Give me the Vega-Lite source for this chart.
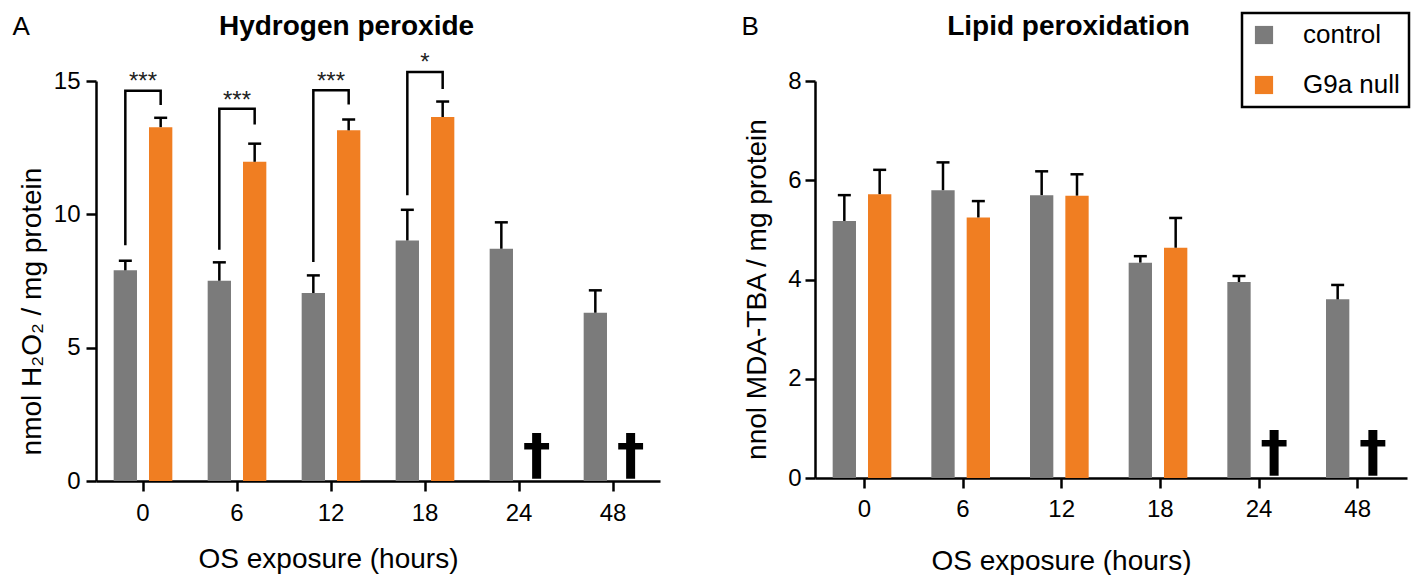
{
  "$schema": "https://vega.github.io/schema/vega-lite/v6.json",
  "background": "white",
  "padding": {"left": 12, "top": 11, "right": 0, "bottom": 0},
  "config": {
    "font": "Liberation Sans",
    "view": {"stroke": null},
    "axis": {"grid": false, "domainColor": "black", "domainWidth": 2.5, "tickColor": "black", "tickWidth": 2.5, "tickSize": 10, "labelColor": "black", "labelFontSize": 24, "labelFont": "Liberation Sans", "titleColor": "black", "titleFont": "Liberation Sans", "titleFontSize": 28, "titleFontWeight": "normal"}
  },
  "datasets": {
    "h2o2": [
      {"time": 0, "group": "control", "value": 7.9, "err": 8.26},
      {"time": 0, "group": "G9a null", "value": 13.27, "err": 13.62},
      {"time": 6, "group": "control", "value": 7.51, "err": 8.2},
      {"time": 6, "group": "G9a null", "value": 11.97, "err": 12.65},
      {"time": 12, "group": "control", "value": 7.05, "err": 7.71},
      {"time": 12, "group": "G9a null", "value": 13.15, "err": 13.56},
      {"time": 18, "group": "control", "value": 9.02, "err": 10.17},
      {"time": 18, "group": "G9a null", "value": 13.65, "err": 14.23},
      {"time": 24, "group": "control", "value": 8.71, "err": 9.7},
      {"time": 48, "group": "control", "value": 6.31, "err": 7.15}
    ],
    "h2o2br": [
      {"time": 0, "group": "control", "y": 8.84, "ord": 1},
      {"time": 0, "group": "control", "y": 14.63, "ord": 2},
      {"time": 0, "group": "G9a null", "y": 14.63, "ord": 3},
      {"time": 0, "group": "G9a null", "y": 14.1, "ord": 4},
      {"time": 6, "group": "control", "y": 8.67, "ord": 1},
      {"time": 6, "group": "control", "y": 13.96, "ord": 2},
      {"time": 6, "group": "G9a null", "y": 13.96, "ord": 3},
      {"time": 6, "group": "G9a null", "y": 13.37, "ord": 4},
      {"time": 12, "group": "control", "y": 8.21, "ord": 1},
      {"time": 12, "group": "control", "y": 14.65, "ord": 2},
      {"time": 12, "group": "G9a null", "y": 14.65, "ord": 3},
      {"time": 12, "group": "G9a null", "y": 14.12, "ord": 4},
      {"time": 18, "group": "control", "y": 10.72, "ord": 1},
      {"time": 18, "group": "control", "y": 15.34, "ord": 2},
      {"time": 18, "group": "G9a null", "y": 15.34, "ord": 3},
      {"time": 18, "group": "G9a null", "y": 14.7, "ord": 4}
    ],
    "h2o2star": [
      {"time": 0, "y": 14.71, "label": "***"},
      {"time": 6, "y": 14.0, "label": "***"},
      {"time": 12, "y": 14.71, "label": "***"},
      {"time": 18, "y": 15.43, "label": "*"}
    ],
    "lipid": [
      {"time": 0, "group": "control", "value": 5.18, "err": 5.7},
      {"time": 0, "group": "G9a null", "value": 5.72, "err": 6.21},
      {"time": 6, "group": "control", "value": 5.8, "err": 6.36},
      {"time": 6, "group": "G9a null", "value": 5.25, "err": 5.58},
      {"time": 12, "group": "control", "value": 5.7, "err": 6.18},
      {"time": 12, "group": "G9a null", "value": 5.69, "err": 6.12},
      {"time": 18, "group": "control", "value": 4.34, "err": 4.47},
      {"time": 18, "group": "G9a null", "value": 4.64, "err": 5.24},
      {"time": 24, "group": "control", "value": 3.95, "err": 4.07},
      {"time": 48, "group": "control", "value": 3.6, "err": 3.89}
    ],
    "dead": [
      {"time": 24, "group": "G9a null", "y": 0, "label": "†"},
      {"time": 48, "group": "G9a null", "y": 0, "label": "†"}
    ]
  },
  "spacing": 81,
  "resolve": {"scale": {"color": "independent"}},
  "hconcat": [
    {
      "width": 564,
      "height": 400,
      "resolve": {"axis": {"x": "independent", "y": "independent"}},
      "layer": [
        {
          "data": {"name": "h2o2"},
          "mark": {"type": "bar"},
          "encoding": {
            "x": {"field": "time", "type": "ordinal", "scale": {"paddingInner": 0, "paddingOuter": 0}, "axis": {"orient": "bottom", "labelAngle": 0, "labelPadding": 10, "title": "OS exposure (hours)", "titleX": 232, "titleY": 78, "titleBaseline": "middle", "titleAlign": "center"}},
            "xOffset": {"field": "group", "type": "nominal", "scale": {"domain": ["control", "G9a null"], "paddingInner": 0.34, "paddingOuter": 0.5}},
            "y": {"field": "value", "type": "quantitative", "scale": {"domain": [0, 15], "nice": false}, "axis": {"orient": "left", "values": [0, 5, 10, 15], "title": "nmol H₂O₂ / mg protein", "titleX": -64, "titleY": 230, "titleBaseline": "middle", "titleAlign": "center", "titleAngle": -90, "labelPadding": 6}},
            "color": {"field": "group", "type": "nominal", "scale": {"domain": ["control", "G9a null"], "range": ["#7b7b7b", "#f07e22"]}, "legend": null}
          }
        },
        {
          "data": {"name": "h2o2"},
          "mark": {"type": "rule", "strokeWidth": 2.5, "color": "black"},
          "encoding": {
            "x": {"field": "time", "type": "ordinal", "axis": null},
            "xOffset": {"field": "group", "type": "nominal", "scale": {"domain": ["control", "G9a null"], "paddingInner": 0.34, "paddingOuter": 0.5}},
            "y": {"field": "value", "type": "quantitative", "axis": null},
            "y2": {"field": "err"}
          }
        },
        {
          "data": {"name": "h2o2"},
          "mark": {"type": "tick", "size": 13, "thickness": 2.5, "color": "black", "opacity": 1},
          "encoding": {
            "x": {"field": "time", "type": "ordinal", "axis": null},
            "xOffset": {"field": "group", "type": "nominal", "scale": {"domain": ["control", "G9a null"], "paddingInner": 0.34, "paddingOuter": 0.5}},
            "y": {"field": "err", "type": "quantitative", "axis": null}
          }
        },
        {
          "data": {"name": "h2o2br"},
          "mark": {"type": "line", "strokeWidth": 2.5, "color": "black", "strokeJoin": "miter", "strokeCap": "butt"},
          "encoding": {
            "x": {"field": "time", "type": "ordinal", "axis": {"orient": "top", "title": "Hydrogen peroxide", "labels": false, "ticks": false, "domain": false, "titleFontWeight": "bold", "titleFontSize": 28, "titleX": 250, "titleY": -47, "titleBaseline": "alphabetic", "titleAlign": "center"}},
            "xOffset": {"field": "group", "type": "nominal", "scale": {"domain": ["control", "G9a null"], "paddingInner": 0.34, "paddingOuter": 0.5}},
            "y": {"field": "y", "type": "quantitative", "axis": null},
            "detail": {"field": "time", "type": "ordinal"},
            "order": {"field": "ord", "type": "quantitative"}
          }
        },
        {
          "data": {"name": "h2o2star"},
          "mark": {"type": "text", "fontSize": 24, "color": "#222222", "baseline": "alphabetic", "align": "center"},
          "encoding": {
            "x": {"field": "time", "type": "ordinal", "axis": null},
            "y": {"field": "y", "type": "quantitative", "axis": {"orient": "right", "title": "A", "labels": false, "ticks": false, "domain": false, "titleFontSize": 26, "titleFontWeight": "normal", "titleAngle": 0, "titleX": -648, "titleY": -47, "titleBaseline": "alphabetic", "titleAlign": "left"}},
            "text": {"field": "label"}
          }
        },
        {
          "data": {"name": "dead"},
          "mark": {"type": "text", "font": "DejaVu Sans", "fontWeight": "bold", "fontSize": 56, "color": "black", "baseline": "bottom", "align": "center", "dy": 4},
          "encoding": {
            "x": {"field": "time", "type": "ordinal", "axis": null},
            "xOffset": {"field": "group", "type": "nominal", "scale": {"domain": ["control", "G9a null"], "paddingInner": 0.34, "paddingOuter": 0.5}},
            "y": {"field": "y", "type": "quantitative", "axis": null},
            "text": {"field": "label"}
          }
        }
      ]
    },
    {
      "width": 592,
      "height": 397,
      "resolve": {"axis": {"x": "independent", "y": "independent"}},
      "layer": [
        {
          "data": {"name": "lipid"},
          "mark": {"type": "bar"},
          "encoding": {
            "x": {"field": "time", "type": "ordinal", "scale": {"paddingInner": 0, "paddingOuter": 0}, "axis": {"orient": "bottom", "labelAngle": 0, "labelPadding": 9, "title": "OS exposure (hours)", "titleX": 246, "titleY": 83, "titleBaseline": "middle", "titleAlign": "center"}},
            "xOffset": {"field": "group", "type": "nominal", "scale": {"domain": ["control", "G9a null"], "paddingInner": 0.35, "paddingOuter": 0.5}},
            "y": {"field": "value", "type": "quantitative", "scale": {"domain": [0, 8], "nice": false}, "axis": {"orient": "left", "values": [0, 2, 4, 6, 8], "title": "nnol MDA-TBA / mg protein", "titleX": -58, "titleY": 208, "titleBaseline": "middle", "titleAlign": "center", "titleAngle": -90, "labelPadding": 4}},
            "color": {"field": "group", "type": "nominal", "scale": {"domain": ["control", "G9a null"], "range": ["#7b7b7b", "#f07e22"]},
              "legend": {"orient": "none", "legendX": 427, "legendY": -68, "title": null, "symbolType": "square", "symbolSize": 330, "symbolStrokeWidth": 0, "labelFontSize": 26, "labelFont": "Liberation Sans", "labelColor": "black", "labelOffset": 26, "padding": 9, "rowPadding": 24, "strokeColor": "black", "fillColor": "white",
                "encode": {"legend": {"update": {"strokeWidth": {"value": 2.5}}}, "symbols": {"update": {"fill": {"signal": "datum.value === 'control' ? '#555555' : '#f7941d'"}, "opacity": {"value": 1}}}}}}
          }
        },
        {
          "data": {"name": "lipid"},
          "mark": {"type": "rule", "strokeWidth": 2.5, "color": "black"},
          "encoding": {
            "x": {"field": "time", "type": "ordinal", "axis": null},
            "xOffset": {"field": "group", "type": "nominal", "scale": {"domain": ["control", "G9a null"], "paddingInner": 0.35, "paddingOuter": 0.5}},
            "y": {"field": "value", "type": "quantitative", "axis": null},
            "y2": {"field": "err"}
          }
        },
        {
          "data": {"name": "lipid"},
          "mark": {"type": "tick", "size": 13, "thickness": 2.5, "color": "black", "opacity": 1},
          "encoding": {
            "x": {"field": "time", "type": "ordinal", "axis": null},
            "xOffset": {"field": "group", "type": "nominal", "scale": {"domain": ["control", "G9a null"], "paddingInner": 0.35, "paddingOuter": 0.5}},
            "y": {"field": "err", "type": "quantitative", "axis": null}
          }
        },
        {
          "data": {"name": "dead"},
          "mark": {"type": "text", "font": "DejaVu Sans", "fontWeight": "bold", "fontSize": 56, "color": "black", "baseline": "bottom", "align": "center", "dy": 4},
          "encoding": {
            "x": {"field": "time", "type": "ordinal", "axis": {"orient": "top", "title": "Lipid peroxidation", "labels": false, "ticks": false, "domain": false, "titleFontWeight": "bold", "titleFontSize": 28, "titleX": 253, "titleY": -47, "titleBaseline": "alphabetic", "titleAlign": "center"}},
            "xOffset": {"field": "group", "type": "nominal", "scale": {"domain": ["control", "G9a null"], "paddingInner": 0.35, "paddingOuter": 0.5}},
            "y": {"field": "y", "type": "quantitative", "axis": {"orient": "right", "title": "B", "labels": false, "ticks": false, "domain": false, "titleFontSize": 26, "titleFontWeight": "normal", "titleAngle": 0, "titleX": -666, "titleY": -47, "titleBaseline": "alphabetic", "titleAlign": "left"}},
            "text": {"field": "label"}
          }
        }
      ]
    }
  ]
}
